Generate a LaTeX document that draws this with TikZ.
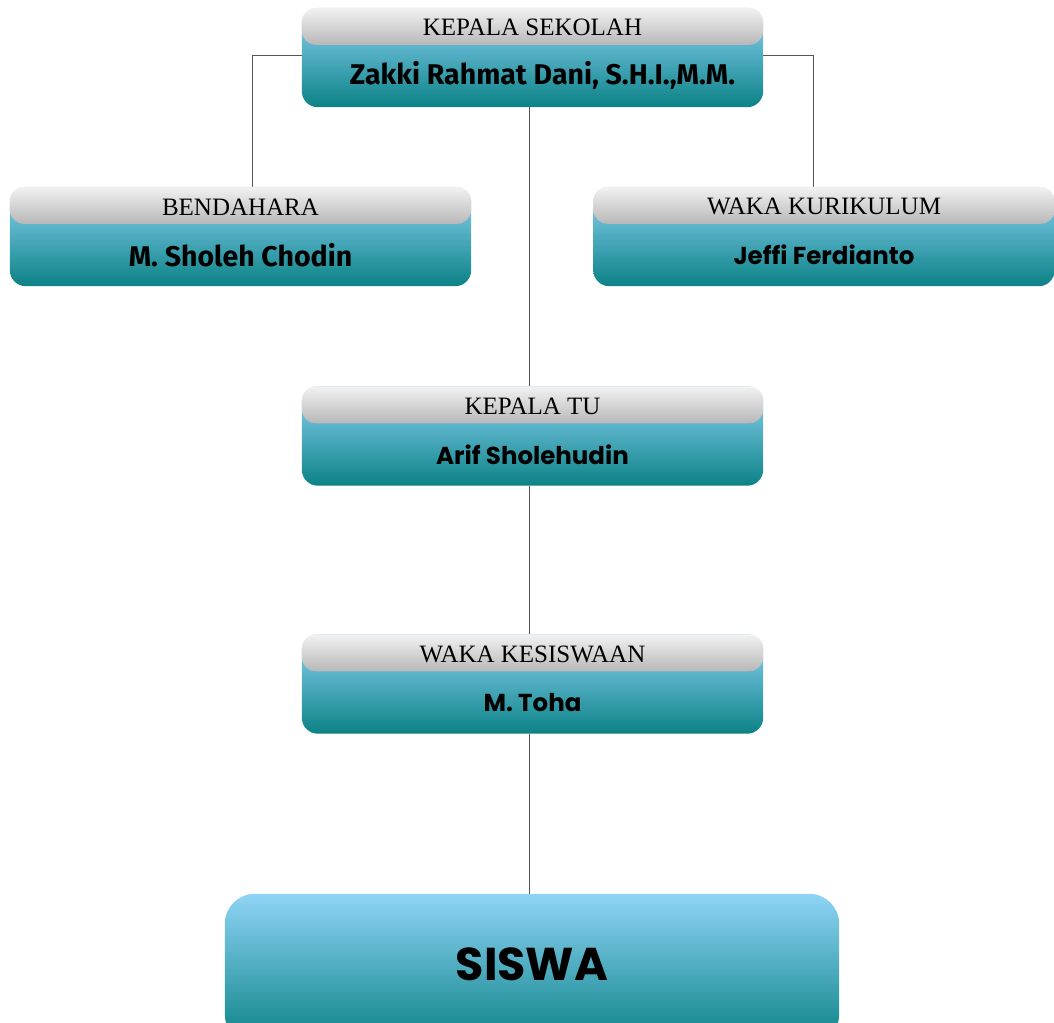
\documentclass[tikz,border=0pt]{standalone}
\usepackage{fontspec}
\usetikzlibrary{calc}
\newfontfamily\firafont{Fira Sans}
\newfontfamily\popfont{Poppins}
\newfontfamily\serfont{Liberation Serif}
\definecolor{tealtop}{HTML}{8FD4F6}
\definecolor{tealbot}{HTML}{0B8286}
\definecolor{hdtop}{HTML}{F2F2F2}
\definecolor{hdbot}{HTML}{B8B8B8}
\definecolor{linegray}{HTML}{555555}
\tikzset{
  posbox/.style={rectangle, minimum width=461pt, minimum height=99pt, inner sep=0pt},
  tealfill/.style={top color=tealtop, bottom color=tealbot, rounded corners=16pt},
  hdrfill/.style={top color=hdtop, bottom color=hdbot, rounded corners=14pt},
  hdtext/.style={font=\serfont\fontsize{25}{29}\selectfont, text=black, inner sep=0pt},
  nmfira/.style={font=\firafont\bfseries\fontsize{28.5}{32}\selectfont, text=black, inner sep=0pt},
  nmpop/.style={font=\popfont\bfseries\fontsize{24.5}{29}\selectfont, text=black, inner sep=0pt},
  conn/.style={draw=linegray, line width=0.9pt}
}
\newcommand{\orgbox}[1]{%
  \shade[tealfill] (#1.north west) rectangle (#1.south east);
  \shade[hdrfill] (#1.north west) rectangle ($(#1.north east)+(0,37)$);
}
\begin{document}
\begin{tikzpicture}[x=1pt,y=-1pt]
\useasboundingbox (0,0) rectangle (1054,1022);
\clip (0,0) rectangle (1054,1022);
\node[posbox] (ks) at (532.5,57.5) {};
\node[posbox] (bd) at (240.5,236.5) {};
\node[posbox] (wk) at (824,236.5) {};
\node[posbox] (tu) at (532.5,436) {};
\node[posbox] (ws) at (532.5,684) {};
\node[rectangle, minimum width=614pt, minimum height=150pt, inner sep=0pt] (sw) at (532,969) {};
% connectors
\draw[conn] ([yshift=2pt]ks.west) -| ([xshift=12pt]bd.north);
\draw[conn] ([yshift=2pt]ks.east) -| ([xshift=-11pt]wk.north);
\draw[conn] ([xshift=-3.5pt]ks.south) -- ([xshift=-3.5pt]tu.north);
\draw[conn] ([xshift=-3.5pt]tu.south) -- ([xshift=-3.5pt]ws.north);
\draw[conn] ([xshift=-3.5pt]ws.south) -- ([xshift=-3pt]sw.north);
% boxes
\orgbox{ks}
\orgbox{bd}
\orgbox{wk}
\orgbox{tu}
\orgbox{ws}
\shade[top color=tealtop, bottom color=tealbot, rounded corners=30pt] (sw.north west) rectangle (sw.south east);
% texts
\node[hdtext] (ksh) at ($(ks.north)+(0,20)$) {KEPALA SEKOLAH};
\node[nmfira] (ksn) at ($(ks.north)+(10,68)$) {Zakki Rahmat Dani, S.H.I.,M.M.};
\node[hdtext] (bdh) at ($(bd.north)+(0,20)$) {BENDAHARA};
\node[nmfira] (bdn) at ($(bd.north)+(0,68)$) {M. Sholeh Chodin};
\node[hdtext] (wkh) at ($(wk.north)+(0,20)$) {WAKA KURIKULUM};
\node[nmpop] (wkn) at ($(wk.north)+(0,68)$) {Jeffi Ferdianto};
\node[hdtext] (tuh) at ($(tu.north)+(0,20)$) {KEPALA TU};
\node[nmpop] (tun) at ($(tu.north)+(0,68)$) {Arif Sholehudin};
\node[hdtext] (wsh) at ($(ws.north)+(0,20)$) {WAKA KESISWAAN};
\node[nmpop] (wsn) at ($(ws.north)+(0,68)$) {M. Toha};
\node[font=\popfont\bfseries\fontsize{46}{52}\selectfont, text=black, inner sep=0pt] (swt) at (532,964) {SISWA};
\end{tikzpicture}
\end{document}
